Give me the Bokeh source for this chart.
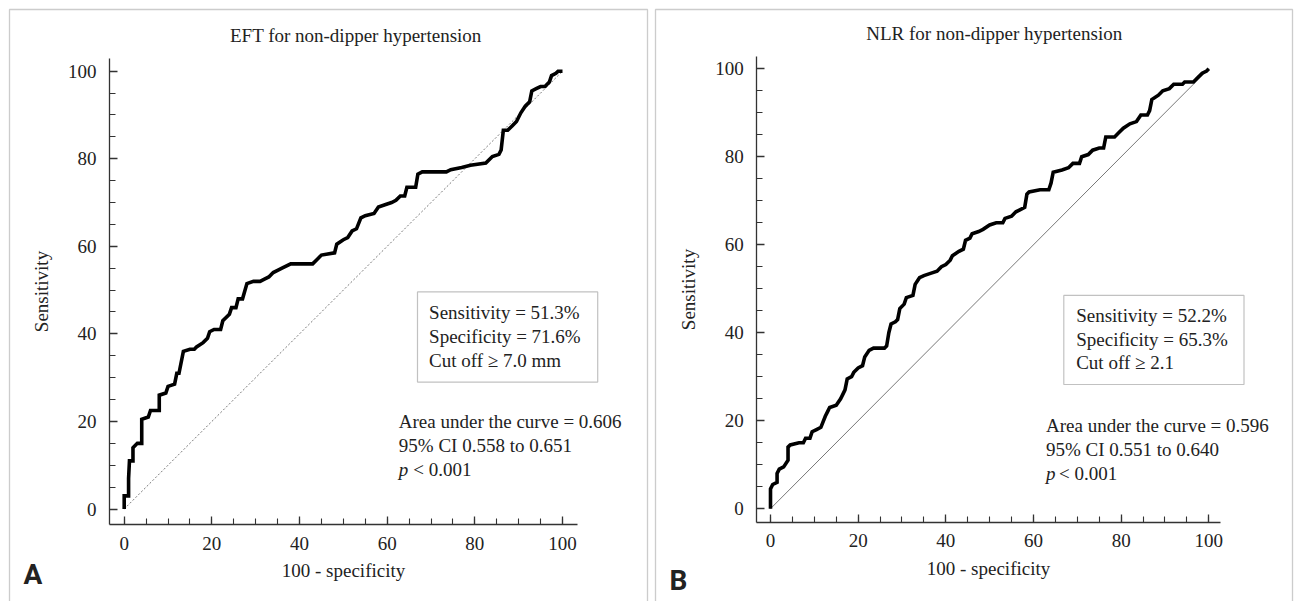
from bokeh.plotting import figure
from bokeh.models import LinearAxis, SingleIntervalTicker, BoxAnnotation, Label, Range1d
from bokeh.layouts import row
from bokeh.embed import file_html
from bokeh.resources import INLINE

# ---------------- data ----------------
fpr_a = [0, 0, 1, 1, 1.2, 2, 2, 3, 4, 4, 5.5, 6, 8, 8, 9.5, 10, 11.5, 12, 12.5, 13.5, 15, 16, 16.5, 18,
         19, 19.5, 20.5, 22, 22.5, 24, 24.5, 25.5, 26, 27, 28, 29.5, 31, 32, 33, 34, 35, 36, 38, 43, 44,
         45, 48, 48.5, 50, 51, 52, 53, 54, 55, 57, 58, 59.5, 61, 62, 63, 64, 64.5, 66.5, 67, 68, 73.5,
         74.5, 77, 79, 82.5, 84, 85.5, 86, 86.5, 87.5, 88.5, 89.5, 90.5, 91.5, 92.5, 93, 94, 95, 96, 97,
         97.5, 98.5, 99, 100]
tpr_a = [0, 3, 3, 7, 11, 11, 14, 15, 15, 20.5, 21, 22.5, 22.5, 26, 26.5, 28, 28.5, 31, 31, 36, 36.5,
         36.5, 37, 38, 39, 40.5, 41, 41, 43, 44.5, 46, 46, 48, 48, 51.5, 52, 52, 52.5, 53, 54, 54.5, 55,
         56, 56, 57, 58, 58.5, 60.5, 61.5, 62, 63.5, 64, 66.5, 67, 67.5, 69, 69.5, 70, 70.5, 71.5, 71.5,
         73.5, 73.5, 76.5, 77, 77, 77.5, 78, 78.5, 79, 80.5, 81, 82, 86.5, 86.5, 87.5, 88.5, 90.5, 92, 93,
         95.5, 96, 96.5, 96.5, 97.5, 99, 99.5, 100, 100]

fpr_b = [0, 0, 0.5, 1.5, 1.5, 2, 3, 4, 4, 4.5, 6.5, 7.5, 8, 9, 9.5, 10.5, 11.5, 12.5, 13, 13.5, 15, 16,
         16.5, 17, 17.5, 18.5, 19, 20, 21, 21.5, 22.5, 23.5, 26, 26.5, 27, 27.5, 28.5, 29, 29.5, 30.5,
         31, 32.5, 33, 34, 35, 36.5, 38, 39, 40, 41, 41.5, 43, 44, 44.5, 45.5, 46, 47.5, 48.5, 50, 51.5,
         53, 53.5, 55, 56, 57, 58, 58.5, 59, 61.5, 63.5, 64, 64.5, 66.5, 68, 69, 70.5, 71, 72.5, 73.5,
         75, 76, 76.5, 78.5, 79.5, 80.5, 82, 83.5, 84.5, 86, 86.5, 87, 88.5, 89.5, 91, 92, 94, 94.5,
         96.5, 97.5, 98.5, 99.5, 100]
tpr_b = [0, 4.5, 5.5, 6, 8, 9, 9.5, 11, 14, 14.5, 15, 15, 16, 16, 17.5, 18, 18.5, 21, 22, 23, 23.5, 25,
         26, 27, 29.5, 30, 31, 32, 32.5, 34.5, 36, 36.5, 36.5, 37, 40, 42, 42.5, 43, 45.5, 46.5, 48,
         48.5, 51, 52.5, 53, 53.5, 54, 55, 55.5, 56.5, 57.5, 58.5, 59, 61, 61.5, 62.5, 63, 63.5, 64.5,
         65, 65, 66, 66.5, 67.5, 68, 68.5, 71.5, 72, 72.5, 72.5, 74, 76.5, 77, 77.5, 78.5, 78.5, 80,
         80.5, 81.5, 82, 82, 84.5, 84.5, 85.5, 86.5, 87.5, 88, 89.5, 89.5, 90.5, 93, 94, 95, 95.5, 96.5,
         96.5, 97, 97, 98, 99, 99.5, 100]

chance = [0, 100]

titles = ["EFT for non-dipper hypertension", "NLR for non-dipper hypertension"]
box_lines_a = ["Sensitivity = 51.3%", "Specificity = 71.6%", "Cut off \u2265 7.0 mm"]
box_lines_b = ["Sensitivity = 52.2%", "Specificity = 65.3%", "Cut off \u2265 2.1"]
auc_lines_a = ["Area under the curve = 0.606", "95% CI 0.558 to 0.651"]
auc_lines_b = ["Area under the curve = 0.596", "95% CI 0.551 to 0.640"]
p_symbol = "p"
p_text = "< 0.001"
x_label = "100 - specificity"
y_label = "Sensitivity"
letters = ["A", "B"]

# ---------------- layout / style ----------------
FONT = "Liberation Serif"
INK = "#222222"
AX = "#333333"
H = 601

specA = dict(W=651, x0=123.7, sx=4.383, y0=508.5, sy=4.378, yaxis_px=109, xaxis_py=524,
             yaxis_top_py=58.4, xaxis_end_px=577.3, bl=9, br=647, bt=9, title=(355.3, 35.4),
             box=(417, 597.2, 291.4, 381.6), box_text=(428.6, [311.8, 335.6, 359.8]),
             auc=(398.3, [421.2, 445.0, 469.2]), p_gap=14.5, letter=(23, 574), dash="2 2")
specB = dict(W=644, x0=119, sx=4.383, y0=508.2, sy=4.399, yaxis_px=105.3, xaxis_py=521.6,
             yaxis_top_py=55.6, xaxis_end_px=569.3, bl=4, br=641, bt=9, title=(342.7, 33.0),
             box=(412.3, 592.5, 294.9, 384.0), box_text=(424.7, [314.8, 338.7, 361.7]),
             auc=(394.5, [425.4, 449.3, 472.7]), p_gap=13.0, letter=(18, 580), dash="solid")


def label(p, x, y, text, size="19px", font=FONT, style="normal", align="left", baseline="middle"):
    p.add_layout(Label(x=x, y=y, text=text, text_font=font, text_font_size=size,
                       text_font_style=style, text_color=INK, text_align=align,
                       text_baseline=baseline))


def panel(s, fpr, tpr, title, box_lines, auc_lines, letter):
    W = s["W"]
    fx = lambda px: (px - s["x0"]) / s["sx"]
    fy = lambda py: (s["y0"] - py) / s["sy"]
    p = figure(width=W, height=H, x_range=Range1d(fx(0), fx(W)), y_range=Range1d(fy(H), fy(0)),
               output_backend="svg", toolbar_location=None, title=None,
               x_axis_location=None, y_axis_location=None, min_border=0)
    p.min_border_left = p.min_border_right = p.min_border_top = p.min_border_bottom = 0
    p.outline_line_color = None
    p.xgrid.visible = False
    p.ygrid.visible = False
    p.background_fill_color = "white"
    p.border_fill_color = "white"

    xa = LinearAxis(fixed_location=fy(s["xaxis_py"]),
                    bounds=(fx(s["yaxis_px"]), fx(s["xaxis_end_px"])),
                    ticker=SingleIntervalTicker(interval=20, num_minor_ticks=4),
                    axis_label=x_label, major_label_standoff=12, axis_label_standoff=7)
    ya = LinearAxis(fixed_location=fx(s["yaxis_px"]),
                    bounds=(fy(s["xaxis_py"]), fy(s["yaxis_top_py"])),
                    ticker=SingleIntervalTicker(interval=20, num_minor_ticks=4),
                    axis_label=y_label, major_label_standoff=13, axis_label_standoff=13)
    for ax in (xa, ya):
        ax.axis_line_color = AX
        ax.axis_line_width = 1.3
        ax.major_tick_line_color = AX
        ax.major_tick_line_width = 1.3
        ax.major_tick_in = 8
        ax.major_tick_out = 0
        ax.minor_tick_line_color = AX
        ax.minor_tick_line_width = 1.1
        ax.minor_tick_in = 6
        ax.minor_tick_out = 0
        ax.major_label_text_font = FONT
        ax.major_label_text_font_size = "19px"
        ax.major_label_text_color = INK
        ax.axis_label_text_font = FONT
        ax.axis_label_text_font_size = "19px"
        ax.axis_label_text_font_style = "normal"
        ax.axis_label_text_color = INK
    p.add_layout(xa, "below")
    p.add_layout(ya, "left")

    # panel frame (open at the bottom of the window)
    p.add_layout(BoxAnnotation(left=fx(s["bl"]), right=fx(s["br"]), top=fy(s["bt"]),
                               bottom=fy(H + 30), fill_color=None, line_color="#555555",
                               line_width=1.3))

    # chance line and ROC curve
    p.line(chance, chance, line_color="#555555", line_width=0.8, line_dash=s["dash"])
    p.line(fpr, tpr, line_color="black", line_width=3.6, line_join="miter")

    # title
    label(p, fx(s["title"][0]), fy(s["title"][1]), title, align="center")

    # cut-off box
    bl, br, bt, bb = s["box"]
    p.add_layout(BoxAnnotation(left=fx(bl), right=fx(br), top=fy(bt), bottom=fy(bb),
                               fill_color=None, line_color="#333333", line_width=1.2))
    tx, tys = s["box_text"]
    for t, ty in zip(box_lines, tys):
        label(p, fx(tx), fy(ty), t)

    # AUC text
    ax0, ays = s["auc"]
    for t, ty in zip(auc_lines, ays[:2]):
        label(p, fx(ax0), fy(ty), t)
    label(p, fx(ax0), fy(ays[2]), p_symbol, style="italic")
    label(p, fx(ax0 + s["p_gap"]), fy(ays[2]), p_text)

    # panel letter
    label(p, fx(s["letter"][0]), fy(s["letter"][1]), letter, size="28px", font="Roboto",
          style="bold", baseline="middle")
    return p


pA = panel(specA, fpr_a, tpr_a, titles[0], box_lines_a, auc_lines_a, letters[0])
pB = panel(specB, fpr_b, tpr_b, titles[1], box_lines_b, auc_lines_b, letters[1])

layout = row(pA, pB)
open("out.html", "w").write(file_html(layout, INLINE))
